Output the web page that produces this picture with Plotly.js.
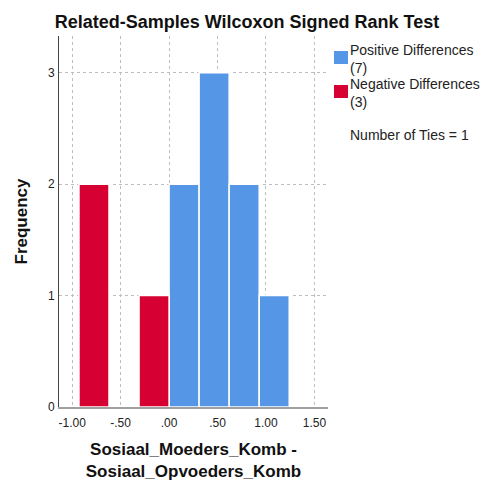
<!DOCTYPE html>
<html>
<head>
<meta charset="utf-8">
<script src="https://cdn.plot.ly/plotly-3.0.1.min.js"></script>
<style>html,body{margin:0;padding:0;background:#fff;}</style>
</head>
<body>
<div id="chart" style="width:489px;height:481px;"></div>
<script>
const binWidth = 0.31;
const negCenters = [-0.775, -0.155];
const negCounts = [2, 1];
const posCenters = [0.155, 0.465, 0.775, 1.085];
const posCounts = [2, 3, 2, 1];
const xTickVals = [-1, -0.5, 0, 0.5, 1, 1.5];
const xTickText = ['-1.00', '-.50', '.00', '.50', '1.00', '1.50'];
const yTickVals = [0, 1, 2, 3];
const posLabel = 'Positive Differences<br>(7)';
const negLabel = 'Negative Differences<br>(3)';
const tiesText = 'Number of Ties = 1';

const font = 'Liberation Sans, Arial, sans-serif';
const BLUE = '#5596E6', RED = '#D70032';

// plot area in pixels
const M = {l: 59, r: 161, t: 36, b: 74};
const W = 489, H = 481;
const pw = W - M.l - M.r, ph = H - M.t - M.b;
const px = v => (v - M.l) / pw;
const py = v => (H - M.b - v) / ph;

const data = [
  {type: 'bar', x: posCenters, y: posCounts, width: binWidth, name: 'Positive Differences',
   marker: {color: BLUE, line: {color: '#ffffff', width: 1.5}}},
  {type: 'bar', x: negCenters, y: negCounts, width: binWidth, name: 'Negative Differences',
   marker: {color: RED, line: {color: '#ffffff', width: 1.5}}}
];

function legText(t, x, y) {
  return {text: t, xref: 'paper', yref: 'paper', x: px(x), y: py(y),
          xanchor: 'left', yanchor: 'middle', align: 'left', showarrow: false, borderpad: 0,
          font: {family: font, size: 14, color: '#222'}};
}

const layout = {
  width: W, height: H,
  margin: Object.assign({autoexpand: false}, M),
  paper_bgcolor: '#fff', plot_bgcolor: '#fff',
  font: {family: font, size: 12, color: '#222'},
  barmode: 'overlay',
  showlegend: false,
  title: {text: 'Related-Samples Wilcoxon Signed Rank Test',
          font: {family: font, size: 18, color: '#111', weight: 'bold'},
          x: 0.505, xanchor: 'center', y: 0.955, yanchor: 'middle'},
  xaxis: {range: [-1.136, 1.64], tickvals: xTickVals, ticktext: xTickText,
          showgrid: true, gridcolor: '#bdbdbd', griddash: '3px,3px', gridwidth: 1,
          showline: true, linecolor: '#a0a0a0', linewidth: 2, zeroline: false,
          ticks: '', ticklabelstandoff: 4, tickfont: {size: 12, color: '#222'},
          title: {text: 'Sosiaal_Moeders_Komb -<br>Sosiaal_Opvoeders_Komb',
                  font: {family: font, size: 17, color: '#111', weight: 'bold'}, standoff: 21}},
  yaxis: {range: [0, 3.33], tickvals: yTickVals,
          showgrid: true, gridcolor: '#bdbdbd', griddash: '3px,3px', gridwidth: 1,
          showline: true, linecolor: '#444', linewidth: 1, zeroline: false,
          ticks: '', ticklabelstandoff: 1, tickfont: {size: 12, color: '#222'},
          title: {text: 'Frequency', font: {family: font, size: 17, color: '#111', weight: 'bold'}, standoff: 15}},
  shapes: [
    {type: 'rect', xref: 'paper', yref: 'paper', x0: px(334), x1: px(348), y0: py(64), y1: py(51),
     fillcolor: BLUE, line: {width: 0}},
    {type: 'rect', xref: 'paper', yref: 'paper', x0: px(334), x1: px(348), y0: py(98), y1: py(85),
     fillcolor: RED, line: {width: 0}}
  ],
  annotations: [
    legText(posLabel, 349, 59),
    legText(negLabel, 349, 93),
    legText(tiesText, 349, 135)
  ]
};

Plotly.newPlot('chart', data, layout, {displayModeBar: false, staticPlot: true});
</script>
</body>
</html>
